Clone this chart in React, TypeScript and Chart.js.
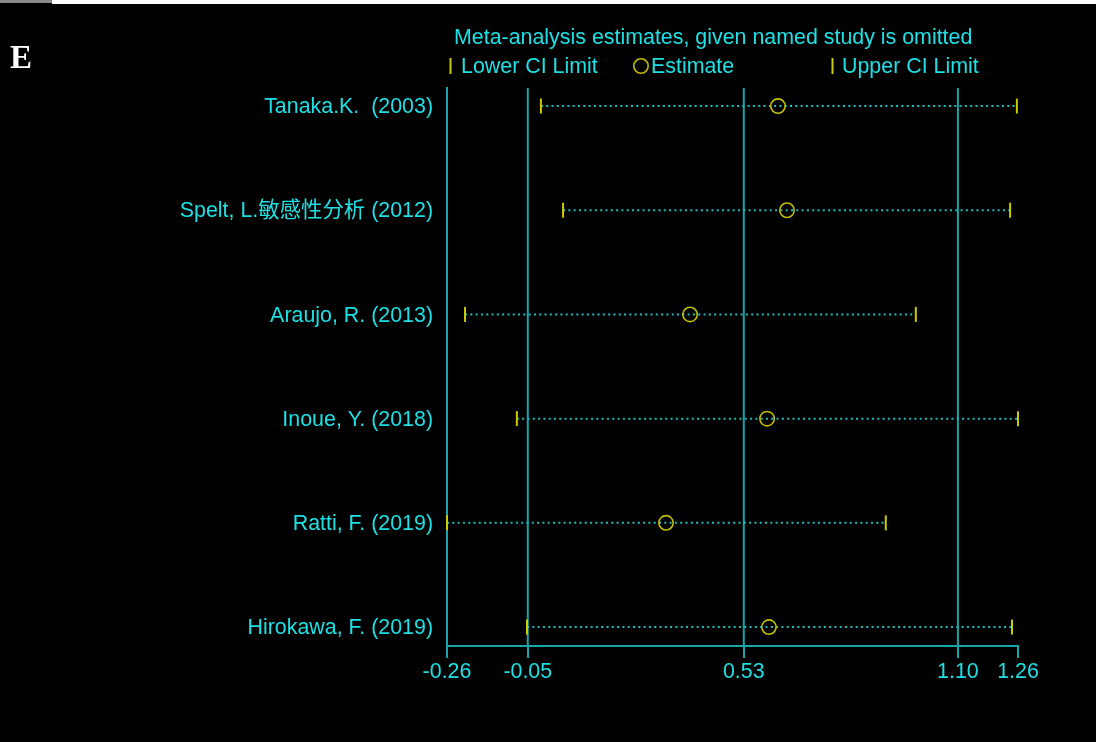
import React, { useEffect, useRef } from "react";
import { Chart, registerables } from "chart.js";

Chart.register(...registerables);

const studies = [
  "Tanaka.K.  (2003)",
  "Spelt, L.敏感性分析 (2012)",
  "Araujo, R. (2013)",
  "Inoue, Y. (2018)",
  "Ratti, F. (2019)",
  "Hirokawa, F. (2019)",
];
const lowerCI = [-0.01, 0.049, -0.212, -0.074, -0.26, -0.047];
const estimate = [0.621, 0.645, 0.387, 0.592, 0.323, 0.597];
const upperCI = [1.257, 1.239, 0.988, 1.26, 0.908, 1.244];
const overallLines = [-0.045, 0.53, 1.1];
const tickValues = [-0.26, -0.045, 0.53, 1.1, 1.26];
const tickLabels = ["-0.26", "-0.05", "0.53", "1.10", "1.26"];

const titleText = "Meta-analysis estimates, given named study is omitted";
const legendLower = "Lower CI Limit";
const legendEst = "Estimate";
const legendUpper = "Upper CI Limit";
const panelLabel = "E";

const CYAN = "#1EE0E4";
const TEAL = "#17A6A8";
const DOT = "#1CBCC0";
const YELLOW = "#CCCC00";
const CIRCLE = "#C2BE00";
const FONT = '"Liberation Sans", Arial, "Noto Sans CJK SC", sans-serif';
const FS = 21.4;

const Y_MIN = 0.827;
const Y_MAX = 6.182;

const bgPlugin = {
  id: "bgPlugin",
  beforeDraw(chart: any) {
    const ctx = chart.ctx;
    ctx.save();
    ctx.fillStyle = "#000000";
    ctx.fillRect(0, 0, chart.width, chart.height);
    ctx.fillStyle = "#ffffff";
    ctx.fillRect(0, 0, chart.width, 4);
    ctx.fillStyle = "#8a8a8a";
    ctx.fillRect(0, 0, 52, 3);
    ctx.fillStyle = "#000000";
    ctx.fillRect(0, 3, 52, 1);
    ctx.restore();
  },
  afterDraw(chart: any) {
    const ctx = chart.ctx;
    ctx.save();
    // panel label
    ctx.fillStyle = "#ffffff";
    ctx.font = 'bold 33px "Liberation Serif", "Times New Roman", serif';
    ctx.textBaseline = "alphabetic";
    ctx.textAlign = "left";
    ctx.fillText(panelLabel, 10, 68);
    // title
    ctx.font = FS + "px " + FONT;
    ctx.fillStyle = CYAN;
    ctx.textBaseline = "middle";
    ctx.fillText(titleText, 454, 38);
    // legend
    ctx.strokeStyle = YELLOW;
    ctx.lineWidth = 2;
    ctx.beginPath();
    ctx.moveTo(450.5, 58);
    ctx.lineTo(450.5, 74);
    ctx.moveTo(832.5, 58);
    ctx.lineTo(832.5, 74);
    ctx.stroke();
    ctx.strokeStyle = CIRCLE;
    ctx.lineWidth = 1.6;
    ctx.beginPath();
    ctx.arc(641, 66, 7.2, 0, Math.PI * 2);
    ctx.stroke();
    ctx.fillStyle = CYAN;
    ctx.fillText(legendLower, 461, 67);
    ctx.fillText(legendEst, 651, 67);
    ctx.fillText(legendUpper, 842, 67);
    ctx.restore();
  },
};

export default function App() {
  const ref = useRef<HTMLCanvasElement | null>(null);

  useEffect(() => {
    document.body.style.margin = "0";
    document.body.style.background = "#000";
    const canvas = ref.current;
    if (!canvas) return;

    const rows = studies.map((_, i) => i + 1);

    const ciLines = studies.map((_, i) => ({
      type: "line" as const,
      data: [
        { x: lowerCI[i], y: rows[i] },
        { x: upperCI[i], y: rows[i] },
      ],
      borderColor: DOT,
      borderWidth: 2,
      borderDash: [2, 3.3],
      pointRadius: 0,
      fill: false,
      clip: false as any,
      order: 5,
    }));

    const refLines = overallLines.map((v) => ({
      type: "line" as const,
      data: [
        { x: v, y: Y_MIN },
        { x: v, y: Y_MAX },
      ],
      borderColor: TEAL,
      borderWidth: 2,
      pointRadius: 0,
      fill: false,
      order: 6,
    }));

    const chart = new Chart(canvas, {
      type: "scatter",
      data: {
        datasets: [
          {
            type: "scatter",
            data: rows.map((r, i) => ({ x: lowerCI[i], y: r })),
            pointStyle: "line",
            rotation: 90,
            pointRadius: 7.5,
            borderColor: YELLOW,
            backgroundColor: YELLOW,
            borderWidth: 2,
            clip: false as any,
            order: 1,
          },
          {
            type: "scatter",
            data: rows.map((r, i) => ({ x: upperCI[i], y: r })),
            pointStyle: "line",
            rotation: 90,
            pointRadius: 7.5,
            borderColor: YELLOW,
            backgroundColor: YELLOW,
            borderWidth: 2,
            clip: false as any,
            order: 1,
          },
          {
            type: "scatter",
            data: rows.map((r, i) => ({ x: estimate[i], y: r })),
            pointStyle: "circle",
            pointRadius: 7.2,
            borderColor: CIRCLE,
            backgroundColor: "rgba(0,0,0,0)",
            borderWidth: 1.6,
            clip: false as any,
            order: 0,
          },
          ...ciLines,
          ...refLines,
        ] as any,
      },
      options: {
        responsive: false,
        animation: false,
        events: [],
        layout: { padding: { top: 88, right: 78, left: 0, bottom: 0 } },
        plugins: {
          legend: { display: false },
          title: { display: false },
          tooltip: { enabled: false },
        },
        scales: {
          x: {
            type: "linear",
            min: -0.26,
            max: 1.26,
            afterBuildTicks: (s: any) => {
              s.ticks = tickValues.map((v) => ({ value: v }));
            },
            afterFit: (s: any) => {
              s.height = 96;
            },
            ticks: {
              autoSkip: false,
              maxRotation: 0,
              color: CYAN,
              padding: 1.5,
              font: { family: FONT, size: FS },
              callback: (_v: any, i: number) => tickLabels[i],
            },
            grid: {
              display: true,
              drawOnChartArea: false,
              drawTicks: true,
              tickLength: 12,
              color: TEAL,
              lineWidth: 2,
            },
            border: { display: true, color: TEAL, width: 2 },
          },
          y: {
            type: "linear",
            reverse: true,
            min: Y_MIN,
            max: Y_MAX,
            afterBuildTicks: (s: any) => {
              s.ticks = rows.map((v) => ({ value: v + 0.012 }));
            },
            afterFit: (s: any) => {
              s.width = 447;
            },
            ticks: {
              autoSkip: false,
              color: CYAN,
              padding: 14,
              font: { family: FONT, size: FS },
              callback: (v: any) => studies[Math.round(Number(v)) - 1],
            },
            grid: {
              display: true,
              drawOnChartArea: false,
              drawTicks: false,
            },
            border: { display: true, color: TEAL, width: 2 },
          },
        },
      },
      plugins: [bgPlugin],
    });

    return () => chart.destroy();
  }, []);

  return (
    <div style={{ width: 1096, height: 742, background: "#000" }}>
      <canvas ref={ref} width={1096} height={742} style={{ display: "block" }} />
    </div>
  );
}
